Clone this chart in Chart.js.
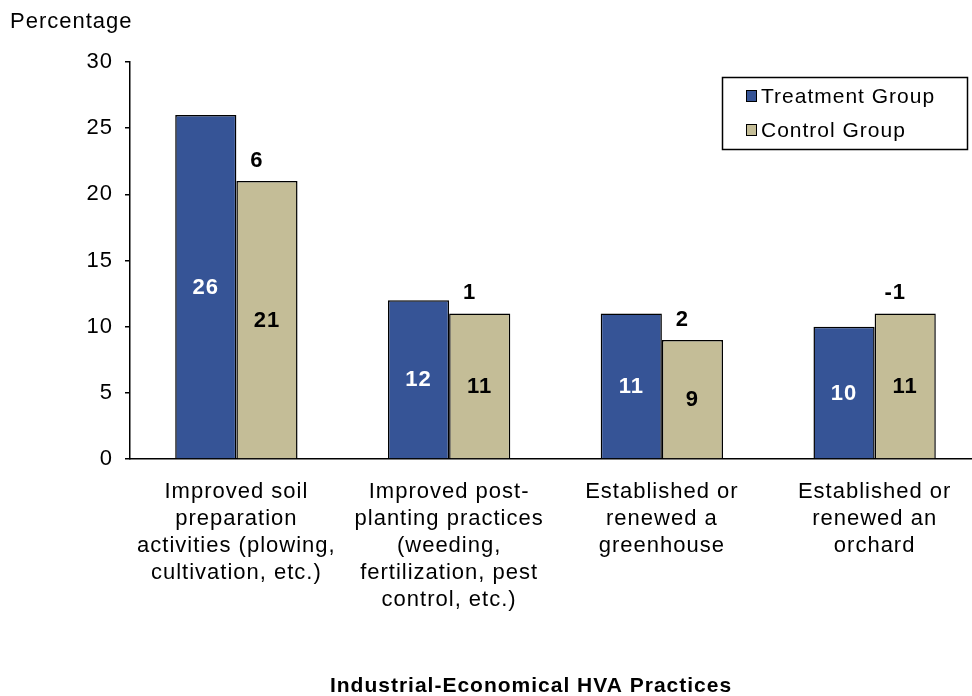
<!DOCTYPE html>
<html lang="en">
<head>
    <meta charset="UTF-8">
    <title>HVA Practices</title>
    <script src="https://cdn.jsdelivr.net/npm/chart.js"></script>
    <style>
        html, body { margin: 0; padding: 0; background: #fff; overflow: hidden; }
        #wrap { width: 972px; height: 696px; overflow: hidden; }
    </style>
</head>
<body>
    <div id="wrap">
        <canvas id="hvaChart" width="990" height="696"></canvas>
    </div>

    <script>
        // --- data ---
        const categories = [
            ['Improved soil', 'preparation', 'activities (plowing,', 'cultivation, etc.)'],
            ['Improved post-', 'planting practices', '(weeding,', 'fertilization, pest', 'control, etc.)'],
            ['Established or', 'renewed a', 'greenhouse'],
            ['Established or', 'renewed an', 'orchard']
        ];
        const treatmentValues = [26, 12, 11, 10];
        const controlValues = [21, 11, 9, 11];
        const differenceLabels = ['6', '1', '2', '-1'];
        const yTicks = [0, 5, 10, 15, 20, 25, 30];

        const FONT = 'Arial, "Liberation Sans", sans-serif';

        // the original text is set a bit wide, so space the letters out a little
        const spacing = {
            id: 'spacing',
            beforeDraw(chart) { chart.ctx.letterSpacing = '1px'; }
        };

        // value labels inside bars + differences above control bars
        const barLabels = {
            id: 'barLabels',
            afterDatasetsDraw(chart) {
                const ctx = chart.ctx;
                ctx.save();
                ctx.textAlign = 'center';
                ctx.textBaseline = 'middle';
                ctx.font = 'bold 22px ' + FONT;
                chart.data.datasets.forEach((ds, i) => {
                    const meta = chart.getDatasetMeta(i);
                    meta.data.forEach((bar, j) => {
                        ctx.fillStyle = i === 0 ? '#ffffff' : '#000000';
                        ctx.fillText(String(ds.data[j]), bar.x, (bar.y + bar.base) / 2 + 1);
                    });
                });
                const ctrl = chart.getDatasetMeta(1);
                ctx.fillStyle = '#000';
                ctx.font = 'bold 22px ' + FONT;
                ctrl.data.forEach((bar, j) => {
                    ctx.fillText(differenceLabels[j], bar.x - 10, bar.y - 20);
                });
                ctx.restore();
            }
        };

        // boxed legend, y title and x title
        const extras = {
            id: 'extras',
            afterDraw(chart) {
                const ctx = chart.ctx;
                ctx.save();
                // y title
                ctx.fillStyle = '#000';
                ctx.font = '22px ' + FONT;
                ctx.textAlign = 'left';
                ctx.textBaseline = 'middle';
                ctx.fillText('Percentage', 10, 22);

                // x title
                ctx.font = 'bold 21px ' + FONT;
                ctx.textAlign = 'center';
                ctx.fillText('Industrial-Economical HVA Practices', 531, 686);

                // legend box
                ctx.strokeStyle = '#000';
                ctx.lineWidth = 1.5;
                ctx.strokeRect(722.5, 77.5, 245, 72);
                ctx.font = '21px ' + FONT;
                ctx.textAlign = 'left';
                chart.data.datasets.forEach((ds, i) => {
                    const y = 96 + i * 34;
                    ctx.fillStyle = ds.backgroundColor;
                    ctx.fillRect(746, y - 6, 11, 12);
                    ctx.lineWidth = 1;
                    ctx.strokeRect(746.5, y - 5.5, 10, 11);
                    ctx.fillStyle = '#000';
                    ctx.fillText(ds.label, 761, y + 1);
                });
                ctx.restore();
            }
        };

        new Chart(document.getElementById('hvaChart'), {
            type: 'bar',
            data: {
                labels: categories,
                datasets: [
                    {
                        label: 'Treatment Group',
                        data: treatmentValues,
                        backgroundColor: '#365496',
                        borderColor: '#000',
                        borderWidth: 1.5
                    },
                    {
                        label: 'Control Group',
                        data: controlValues,
                        backgroundColor: '#c4bd97',
                        borderColor: '#000',
                        borderWidth: 1.5
                    }
                ]
            },
            options: {
                responsive: false,
                animation: false,
                layout: { padding: { top: 62, right: 9, left: 0, bottom: 0 } },
                plugins: {
                    legend: { display: false },
                    tooltip: { enabled: false }
                },
                datasets: {
                    bar: { barPercentage: 1, categoryPercentage: 0.575 }
                },
                scales: {
                    x: {
                        grid: { display: false },
                        border: { display: true, color: '#000', width: 1.5 },
                        ticks: {
                            color: '#000',
                            font: { family: FONT, size: 22, lineHeight: 1.23 },
                            maxRotation: 0,
                            autoSkip: false,
                            padding: 11
                        },
                        afterFit(scale) { scale.height = 696 - 459; }
                    },
                    y: {
                        min: 0,
                        max: 30,
                        afterBuildTicks(scale) {
                            scale.ticks = yTicks.map(v => ({ value: v }));
                        },
                        grid: {
                            drawOnChartArea: false,
                            drawTicks: true,
                            tickLength: 5,
                            color: '#000',
                            lineWidth: 1.5
                        },
                        border: { display: true, color: '#000', width: 1.5 },
                        ticks: {
                            color: '#000',
                            font: { family: FONT, size: 22 },
                            padding: 12
                        },
                        afterFit(scale) { scale.width = 130; }
                    }
                }
            },
            plugins: [spacing, barLabels, extras]
        });
    </script>
</body>
</html>
